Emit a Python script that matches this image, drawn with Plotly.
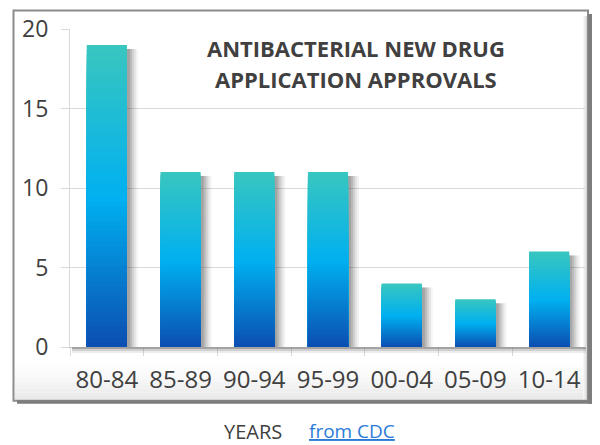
import plotly.graph_objects as go

# Antibacterial NDA approvals per five-year period
periods = ["80-84", "85-89", "90-94", "95-99", "00-04", "05-09", "10-14"]
approvals = [19, 11, 11, 11, 4, 3, 6]
y_ticks = [0, 5, 10, 15, 20]

W, H = 600, 445
ML, MR, MT, MB = 70, 14, 27, 98
PW, PH = W - ML - MR, H - MT - MB


def px_x(px):
    return (px - ML) / PW


def px_y(py):
    return (H - MB - py) / PH


# vertical colour ramp used inside every bar (0 = base, 1 = top)
stops = [(0.0, (12, 76, 176)), (0.5, (0, 176, 240)), (1.0, (56, 198, 192))]


def ramp(f):
    for (a, ca), (b, cb) in zip(stops[:-1], stops[1:]):
        if f <= b:
            t = (f - a) / (b - a)
            c = [round(ca[k] + (cb[k] - ca[k]) * t) for k in range(3)]
            return f"rgb({c[0]},{c[1]},{c[2]})"
    c = stops[-1][1]
    return f"rgb({c[0]},{c[1]},{c[2]})"


bar_w = 0.545
units_per_px_x = 1 / (PW / len(periods))
units_per_px_y = 20 / PH

fig = go.Figure()

# soft drop shadow to the right of each bar
for dpx, op in [(11, 0.05), (9, 0.08), (7, 0.11), (5, 0.14), (3, 0.17)]:
    fig.add_trace(go.Bar(
        x=periods,
        y=[v - 4 * units_per_px_y for v in approvals],
        width=bar_w,
        offset=-bar_w / 2 + dpx * units_per_px_x,
        marker=dict(color="rgb(60,60,60)", line=dict(width=0)),
        opacity=op,
        hoverinfo="skip",
        showlegend=False,
    ))

# gradient bars: stacked overlays of decreasing height
N = 60
for i in range(N):
    frac = 1 - i / N
    fig.add_trace(go.Bar(
        x=periods,
        y=[v * frac for v in approvals],
        width=bar_w,
        offset=-bar_w / 2,
        marker=dict(color=ramp(frac), line=dict(width=0)),
        hoverinfo="skip" if i else "x+y",
        customdata=approvals,
        hovertemplate=None if i else "%{x}: %{customdata}<extra></extra>",
        showlegend=False,
    ))

shapes = []

# light shading below the category axis
band_top, band_bot = 356, 400
nb = 12
for k in range(nb):
    t = k / (nb - 1)
    g = round(255 - 22 * t ** 1.6)
    y0 = band_top + (band_bot - band_top) * k / nb
    y1 = band_top + (band_bot - band_top) * (k + 1) / nb
    shapes.append(dict(type="rect", xref="paper", yref="paper", layer="below",
                       x0=px_x(15), x1=px_x(586), y0=px_y(y1), y1=px_y(y0),
                       fillcolor=f"rgb({g},{g},{g})", line=dict(width=0)))

# right-hand inner shading strip
for k, g in enumerate([246, 238, 228, 215]):
    shapes.append(dict(type="rect", xref="paper", yref="paper", layer="below",
                       x0=px_x(583 + k), x1=px_x(584 + k), y0=px_y(400), y1=px_y(14),
                       fillcolor=f"rgb({g},{g},{g})", line=dict(width=0)))

# shadow beneath the axis line
for y0, y1, c in [(347.5, 349, "rgba(90,90,90,0.55)"), (349, 351, "rgba(120,120,120,0.35)"),
                  (351, 353, "rgba(150,150,150,0.18)")]:
    shapes.append(dict(type="rect", xref="paper", yref="paper", layer="above",
                       x0=px_x(72), x1=px_x(586), y0=px_y(y1), y1=px_y(y0),
                       fillcolor=c, line=dict(width=0)))

# outer frame with heavier right and bottom edges
shapes.append(dict(type="rect", xref="paper", yref="paper", layer="above",
                   x0=px_x(13.5), x1=px_x(588), y0=px_y(401), y1=px_y(8.5),
                   line=dict(color="rgb(140,140,140)", width=2)))
shapes.append(dict(type="rect", xref="paper", yref="paper", layer="above",
                   x0=px_x(588), x1=px_x(592), y0=px_y(404), y1=px_y(12),
                   fillcolor="rgb(125,125,125)", line=dict(width=0)))
shapes.append(dict(type="rect", xref="paper", yref="paper", layer="above",
                   x0=px_x(17), x1=px_x(592), y0=px_y(404), y1=px_y(400.5),
                   fillcolor="rgb(125,125,125)", line=dict(width=0)))

annotations = [
    dict(text="<b>ANTIBACTERIAL NEW DRUG</b>", x=px_x(356), y=px_y(46),
         xref="paper", yref="paper", showarrow=False, xanchor="center", yanchor="middle",
         font=dict(family="Open Sans", size=22, color="#404040")),
    dict(text="<b>APPLICATION APPROVALS</b>", x=px_x(356), y=px_y(77),
         xref="paper", yref="paper", showarrow=False, xanchor="center", yanchor="middle",
         font=dict(family="Open Sans", size=22, color="#404040")),
    dict(text="YEARS", x=px_x(253), y=px_y(432),
         xref="paper", yref="paper", showarrow=False, xanchor="center", yanchor="middle",
         font=dict(family="Open Sans", size=20, color="#404040")),
    dict(text="<u>from CDC</u>", x=px_x(352), y=px_y(432),
         xref="paper", yref="paper", showarrow=False, xanchor="center", yanchor="middle",
         font=dict(family="Open Sans", size=19, color="#2B7BD9")),
]

fig.update_layout(
    width=W, height=H,
    margin=dict(l=ML, r=MR, t=MT, b=MB, pad=0),
    paper_bgcolor="white", plot_bgcolor="white",
    barmode="overlay",
    bargap=0.46,
    shapes=shapes,
    annotations=annotations,
    font=dict(family="Open Sans", color="#404040"),
    xaxis=dict(
        type="category", categoryorder="array", categoryarray=periods,
        tickson="boundaries", ticks="outside", ticklen=8, tickcolor="#d9d9d9",
        showline=True, linecolor="#bfbfbf", linewidth=1,
        showgrid=False, tickfont=dict(family="Open Sans", size=24, color="#404040"),
        ticklabelstandoff=11, fixedrange=True,
    ),
    yaxis=dict(
        range=[0, 20], tickvals=y_ticks, ticks="outside", ticklen=8, tickcolor="#d9d9d9",
        showline=True, linecolor="#d9d9d9", linewidth=1,
        showgrid=True, gridcolor="#d9d9d9", gridwidth=1, zeroline=False,
        tickfont=dict(family="Open Sans", size=23, color="#404040"),
        ticklabelstandoff=8, fixedrange=True,
    ),
)

fig.write_html("out.html")
